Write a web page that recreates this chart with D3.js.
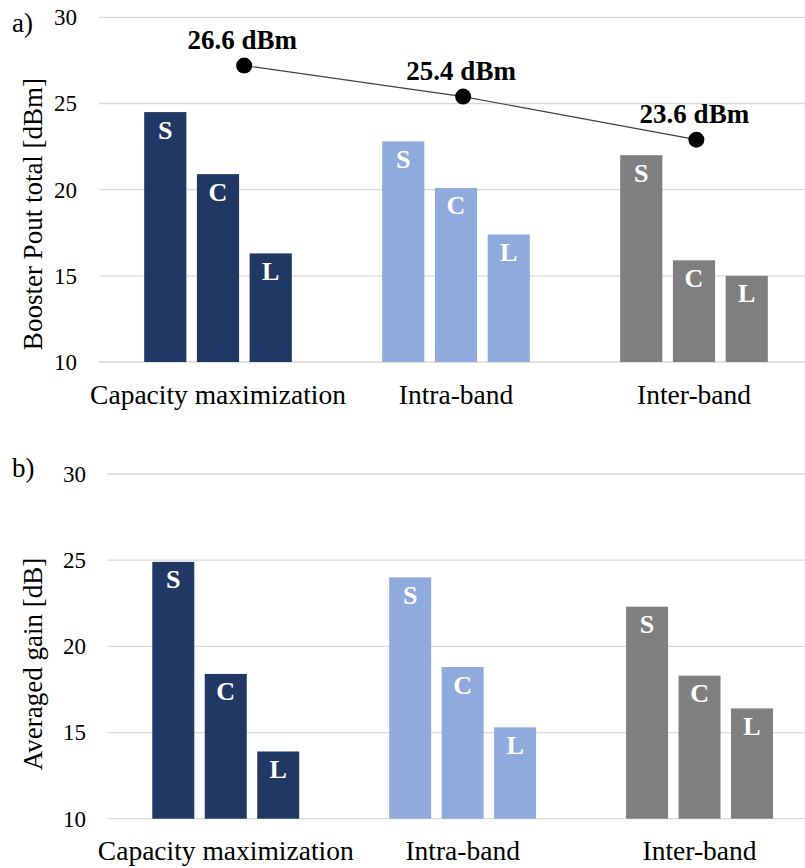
<!DOCTYPE html>
<html lang="en">
<head>
    <meta charset="UTF-8">
    <title>Booster Pout / Averaged gain</title>
    <script src="https://d3js.org/d3.v7.min.js"></script>
    <style>
      body { margin: 0; background: #fff; }
      svg text { font-family: "Liberation Serif", "Times New Roman", serif; }
    </style>
</head>
<body>
    <div class="chart"></div>
<script>
  // categories & bands
  const groups = ['Capacity maximization', 'Intra-band', 'Inter-band']
  const bands = ['S', 'C', 'L']
  const groupColors = ['#203864', '#8FAADC', '#7F7F7F']
  const yTicks = [10, 15, 20, 25, 30]

  // a) Booster Pout total [dBm]
  const poutS = [24.5, 22.8, 22.0]
  const poutC = [20.9, 20.1, 15.9]
  const poutL = [16.3, 17.4, 15.0]

  // total power points (secondary series, drawn over the bars)
  const totalPos = [0.61, 1.53, 2.51]   // position along the group axis
  const totalVal = [27.2, 25.4, 22.9]
  const totalLabels = ['26.6 dBm', '25.4 dBm', '23.6 dBm']

  // b) Averaged gain [dB]
  const gainS = [24.9, 24.0, 22.3]
  const gainC = [18.4, 18.8, 18.3]
  const gainL = [13.9, 15.3, 16.4]

  const W = 805, H = 868

  const svg = d3.select('.chart')
                .append('svg')
                .attr('width', W)
                .attr('height', H)

  function toRows(s, c, l){
    return groups.map((g, i) => ({ group: g, gi: i, S: s[i], C: c[i], L: l[i] }))
  }

  function drawPanel(opt){
    const g = svg.append('g')

    const x0 = d3.scaleBand()
                 .domain(groups)
                 .range([opt.left, opt.right])
                 .padding(0)

    const x1 = d3.scaleBand()
                 .domain(bands)
                 .range([0, x0.bandwidth()])
                 .paddingInner(0.2)
                 .paddingOuter(0.857)

    const y = d3.scaleLinear()
                .domain([10, 30])
                .range([opt.bottom, opt.top])

    // gridlines
    g.append('g')
     .selectAll('line')
     .data(yTicks)
     .join('line')
     .attr('x1', opt.left)
     .attr('x2', opt.right)
     .attr('y1', d => y(d))
     .attr('y2', d => y(d))
     .attr('stroke', '#D9D9D9')
     .attr('stroke-width', 1.3)

    // y axis labels
    const yAxis = d3.axisLeft(y)
                    .tickValues(yTicks)
                    .tickSize(0)
                    .tickPadding(opt.left - opt.tickRight)
    const yAxisGroup = g.append('g')
                        .attr('transform', `translate(${opt.left},0)`)
                        .call(yAxis)
    yAxisGroup.select('.domain').remove()
    yAxisGroup.selectAll('text')
              .style('font-size', '23px')
              .attr('fill', '#000')

    // x axis labels
    const xAxis = d3.axisBottom(x0).tickSize(0).tickPadding(opt.catPad)
    const xAxisGroup = g.append('g')
                        .attr('transform', `translate(0,${opt.bottom})`)
                        .call(xAxis)
    xAxisGroup.select('.domain').remove()
    xAxisGroup.selectAll('text')
              .style('font-size', '27.5px')
              .attr('fill', '#000')

    // bars
    const rows = toRows(opt.s, opt.c, opt.l)
    const cells = rows.flatMap(r => bands.map(b => ({ group: r.group, gi: r.gi, band: b, value: r[b] })))

    const barG = g.append('g')
    barG.selectAll('rect')
        .data(cells)
        .join('rect')
        .attr('x', d => x0(d.group) + x1(d.band))
        .attr('y', d => y(d.value))
        .attr('width', x1.bandwidth())
        .attr('height', d => y(10) - y(d.value))
        .attr('fill', d => groupColors[d.gi])

    barG.selectAll('text')
        .data(cells)
        .join('text')
        .attr('x', d => x0(d.group) + x1(d.band) + x1.bandwidth() / 2)
        .attr('y', d => y(d.value) + 26.5)
        .attr('text-anchor', 'middle')
        .attr('fill', '#fff')
        .style('font-size', '26px')
        .style('font-weight', 'bold')
        .text(d => d.band)

    // y axis title
    g.append('text')
     .attr('transform', `translate(${opt.titleX},${opt.titleY}) rotate(-90)`)
     .attr('text-anchor', 'middle')
     .style('font-size', '27px')
     .attr('fill', '#000')
     .text(opt.title)

    // panel letter
    g.append('text')
     .attr('x', 12)
     .attr('y', opt.letterY)
     .style('font-size', '27px')
     .attr('fill', '#000')
     .text(opt.letter)

    return { g, y }
  }

  // panel a
  const a = drawPanel({
    left: 99, right: 813, top: 17.3, bottom: 362,
    tickRight: 77, catPad: 22.5,
    s: poutS, c: poutC, l: poutL,
    title: 'Booster Pout total [dBm]', titleX: 42, titleY: 214,
    letter: 'a)', letterY: 32
  })

  // total power line + dots
  const xLin = d3.scaleLinear().domain([0, 3]).range([99, 813])
  const pts = totalPos.map((p, i) => ({ x: p, v: totalVal[i], label: totalLabels[i] }))

  a.g.append('path')
     .datum(pts)
     .attr('fill', 'none')
     .attr('stroke', '#404040')
     .attr('stroke-width', 1.2)
     .attr('d', d3.line().x(d => xLin(d.x)).y(d => a.y(d.v)))

  a.g.selectAll('circle.pt')
     .data(pts)
     .join('circle')
     .attr('class', 'pt')
     .attr('cx', d => xLin(d.x))
     .attr('cy', d => a.y(d.v))
     .attr('r', 8)
     .attr('fill', '#000')

  a.g.selectAll('text.pt-label')
     .data(pts)
     .join('text')
     .attr('class', 'pt-label')
     .attr('x', d => xLin(d.x) - 2)
     .attr('y', d => a.y(d.v) - 17)
     .attr('text-anchor', 'middle')
     .style('font-size', '27px')
     .style('font-weight', 'bold')
     .attr('fill', '#000')
     .text(d => d.label)

  // panel b
  drawPanel({
    left: 107.3, right: 818, top: 474, bottom: 818.7,
    tickRight: 86, catPad: 22,
    s: gainS, c: gainC, l: gainL,
    title: 'Averaged gain [dB]', titleX: 42, titleY: 664,
    letter: 'b)', letterY: 477
  })
</script>
</body>
</html>
